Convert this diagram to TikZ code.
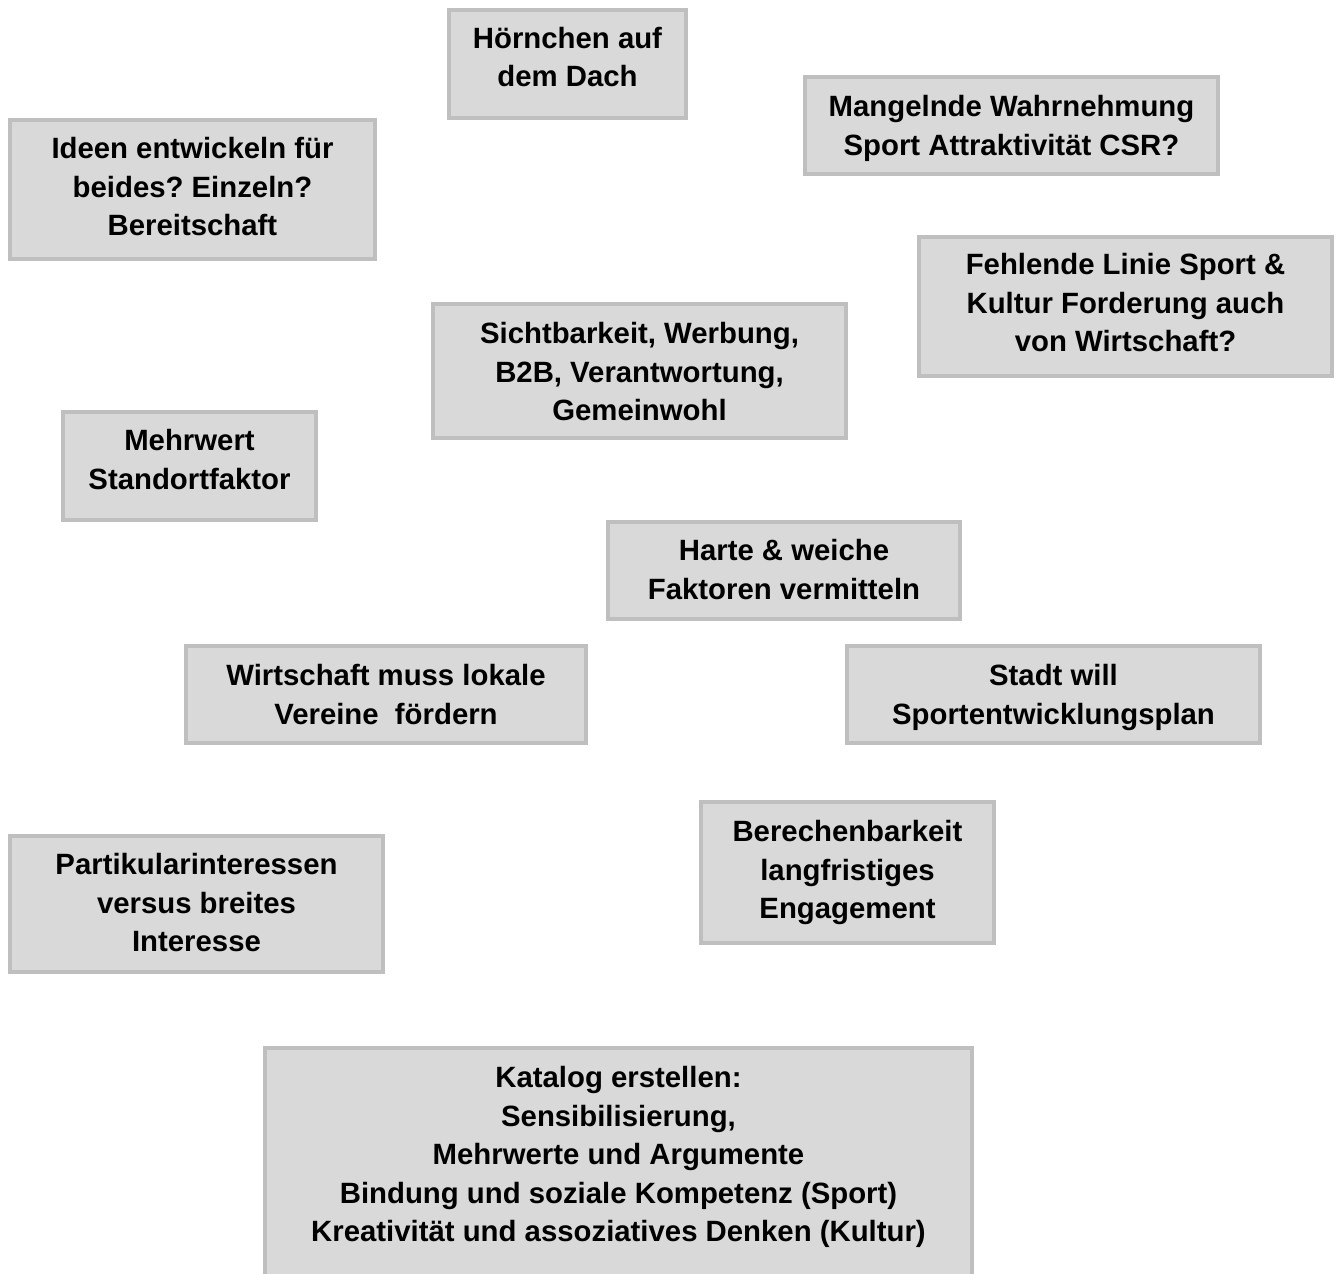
\documentclass[tikz,border=0pt]{standalone}
\usepackage{fontspec}
\setmainfont{Liberation Sans}
\definecolor{boxfill}{HTML}{D9D9D9}
\definecolor{boxline}{HTML}{BFBFBF}
\def\px{0.75pt}
\newdimen\pxd \pxd=0.75pt
% #1: vertical shift of the text in px (positive = down), #2: lines
\newcommand\notelines[2]{\raisebox{0pt}[\dimexpr\height+5\pxd+#1\pxd\relax][\dimexpr\depth+5\pxd-#1\pxd\relax]{\begin{tabular}{@{}c@{}}#2\end{tabular}}}
\tikzset{
  note/.style={draw=boxline, fill=boxfill, line width=3pt, inner sep=0pt,
    font=\fontsize{22}{28.9}\selectfont\bfseries\frenchspacing, text=black},
}
\begin{document}
\begin{tikzpicture}[x=0.75pt,y=-0.75pt]
\useasboundingbox (0,0) rectangle (1339,1274);
\clip (0,0) rectangle (1339,1274);
\node[note, minimum width=237*\px, minimum height=108*\px] (hoernchen) at (567.5,64) {\notelines{-4.1}{Hörnchen auf\\dem Dach}};
\node[note, minimum width=413*\px, minimum height=97*\px] (mangelnde) at (1011.5,125.5) {\notelines{2.9}{Mangelnde Wahrnehmung\\Sport Attraktivität CSR?}};
\node[note, minimum width=365*\px, minimum height=139*\px] (ideen) at (192.5,189.5) {\notelines{-0.1}{Ideen entwickeln für\\beides? Einzeln?\\Bereitschaft}};
\node[note, minimum width=413*\px, minimum height=139*\px] (fehlende) at (1125.5,306.5) {\notelines{-1.1}{Fehlende Linie Sport \&\\Kultur Forderung auch\\von Wirtschaft?}};
\node[note, minimum width=413*\px, minimum height=134*\px] (sicht) at (639.5,371) {\notelines{3.4}{Sichtbarkeit, Werbung,\\B2B, Verantwortung,\\Gemeinwohl}};
\node[note, minimum width=253*\px, minimum height=108*\px] (mehrwert) at (189.5,466) {\notelines{-3.6}{Mehrwert\\Standortfaktor}};
\node[note, minimum width=352*\px, minimum height=97*\px] (harte) at (784,570.5) {\notelines{1.9}{Harte \& weiche\\Faktoren vermitteln}};
\node[note, minimum width=400*\px, minimum height=97*\px] (wirtschaft) at (386,694.5) {\notelines{2.9}{Wirtschaft muss lokale\\Vereine\ \ fördern}};
\node[note, minimum width=413*\px, minimum height=97*\px] (stadt) at (1053.5,694.5) {\notelines{2.9}{Stadt will\\Sportentwicklungsplan}};
\node[note, minimum width=293*\px, minimum height=141*\px] (berechen) at (847.5,872.5) {\notelines{-0.1}{Berechenbarkeit\\langfristiges\\Engagement}};
\node[note, minimum width=373*\px, minimum height=136*\px] (partikular) at (196.5,904) {\notelines{1.4}{Partikularinteressen\\versus breites\\Interesse}};
\node[note, minimum width=707*\px, anchor=north] (katalog) at (618.5,1046) {\raisebox{0pt}[\dimexpr\height+12.5\pxd\relax][\dimexpr\depth+300\pxd\relax]{\begin{tabular}{@{}c@{}}Katalog erstellen:\\Sensibilisierung,\\Mehrwerte und Argumente\\Bindung und soziale Kompetenz (Sport)\\Kreativität und assoziatives Denken (Kultur)\end{tabular}}};
\end{tikzpicture}
\end{document}
